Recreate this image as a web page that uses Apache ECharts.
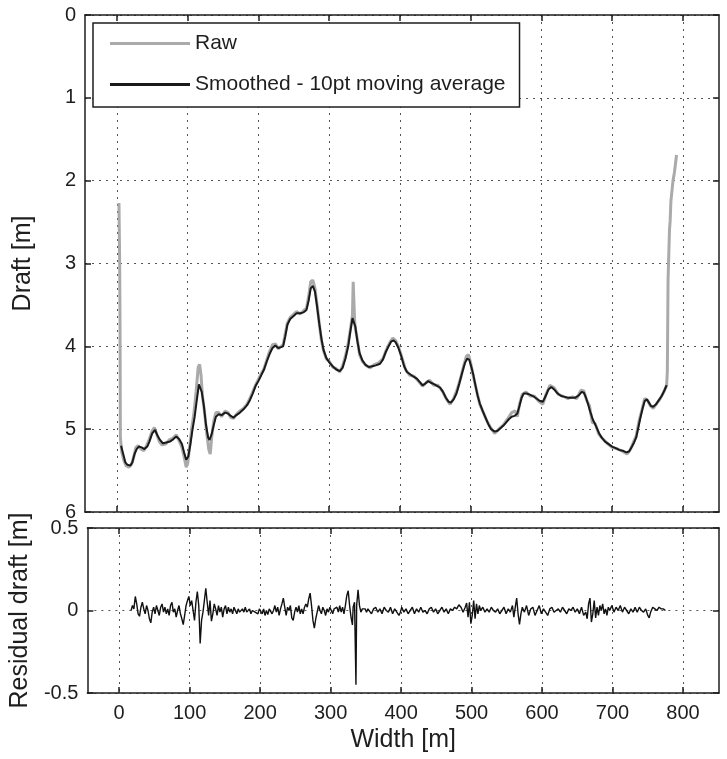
<!DOCTYPE html>
<html>
<head>
<meta charset="utf-8">
<script src="https://cdn.jsdelivr.net/npm/echarts@6/dist/echarts.min.js"></script>
<style>
html, body { margin: 0; padding: 0; background: #fff; }
#chart { width: 727px; height: 759px; }
</style>
</head>
<body>
<div id="chart"></div>
<script>
// tick values
var xTicks = [0, 100, 200, 300, 400, 500, 600, 700, 800];
var seriesNames = ['Raw', 'Smoothed - 10pt moving average'];

// raw draft [width m, draft m]
var rawDraft = [
  [3,2.27],[4,3.0],[4.5,3.75],[5,5.1],[7,5.28],[10,5.38],[13,5.44],[17,5.46],[21,5.42],[24,5.33],
  [27,5.22],[30,5.2],[34,5.24],[38,5.26],[42,5.2],[46,5.12],[50,5.02],[53,4.98],[56,5.05],[60,5.15],
  [64,5.19],[69,5.18],[74,5.13],[79,5.11],[84,5.07],[88,5.14],[92,5.22],[95,5.33],[98,5.46],[100,5.42],
  [103,5.2],[106,4.98],[109,4.8],[112,4.55],[115,4.25],[117,4.22],[119,4.35],[121,4.6],[124,4.8],[127,5.05],
  [130,5.25],[132,5.3],[134,5.1],[137,4.9],[140,4.8],[144,4.8],[148,4.85],[153,4.78],[157,4.8],[161,4.86],
  [165,4.87],[169,4.82],[174,4.78],[179,4.75],[184,4.7],[188,4.63],[192,4.55],[196,4.47],[200,4.4],[204,4.33],
  [208,4.27],[212,4.16],[216,4.06],[220,3.98],[224,3.97],[228,4.03],[232,4.0],[235,3.98],[238,3.85],[241,3.72],
  [245,3.65],[249,3.62],[254,3.58],[259,3.61],[264,3.57],[268,3.54],[271,3.4],[274,3.22],[277,3.2],[280,3.3],
  [283,3.5],[286,3.72],[289,3.92],[292,4.05],[296,4.15],[300,4.18],[305,4.25],[310,4.27],[315,4.31],[319,4.24],
  [323,4.12],[327,3.96],[330,3.8],[333,3.62],[334,3.22],[335,3.22],[336,3.68],[337,3.78],[340,3.92],[343,4.1],
  [347,4.18],[352,4.23],[358,4.26],[364,4.22],[370,4.2],[376,4.15],[381,4.04],[386,3.95],[390,3.9],[394,3.93],
  [398,4.0],[403,4.14],[408,4.28],[414,4.35],[420,4.36],[426,4.42],[432,4.48],[437,4.44],[442,4.41],[448,4.47],
  [454,4.47],[460,4.54],[466,4.64],[471,4.7],[476,4.63],[481,4.52],[486,4.38],[490,4.24],[494,4.12],[497,4.1],
  [500,4.2],[504,4.37],[508,4.52],[513,4.7],[518,4.8],[523,4.9],[528,4.98],[534,5.05],[540,5.0],[546,4.95],
  [552,4.88],[558,4.8],[563,4.78],[566,4.85],[569,4.7],[573,4.58],[578,4.55],[584,4.6],[590,4.6],[596,4.66],
  [602,4.7],[607,4.57],[612,4.47],[618,4.5],[624,4.58],[630,4.6],[637,4.63],[644,4.61],[650,4.63],[656,4.53],
  [660,4.54],[664,4.65],[668,4.72],[672,4.92],[676,4.93],[681,5.06],[686,5.11],[693,5.17],[700,5.22],[708,5.24],
  [715,5.27],[721,5.3],[726,5.24],[730,5.16],[734,5.08],[738,4.9],[742,4.77],[746,4.63],[750,4.65],[754,4.72],
  [758,4.75],[763,4.69],[768,4.63],[773,4.55],[777,4.47],[778,4.3],[779,3.2],[781,2.6],[782,2.48],[783,2.25],
  [786,2.0],[788,1.9],[791,1.69]
];

// 10pt moving average
var smoothDraft = [
  [6,5.2],[9,5.3],[12,5.4],[15,5.43],[19,5.44],[22,5.4],[25,5.3],[28,5.24],[31,5.21],[35,5.22],
  [39,5.24],[43,5.21],[46,5.15],[50,5.05],[54,5.01],[57,5.07],[61,5.13],[65,5.17],[70,5.16],[75,5.15],
  [80,5.12],[84,5.09],[88,5.12],[92,5.18],[95,5.28],[98,5.37],[101,5.33],[104,5.18],[107,5.0],[110,4.85],
  [113,4.65],[116,4.46],[118,4.45],[120,4.55],[123,4.72],[126,4.95],[129,5.1],[131,5.13],[134,5.06],[137,4.95],
  [140,4.85],[144,4.82],[148,4.83],[153,4.8],[157,4.81],[161,4.84],[165,4.86],[169,4.83],[174,4.8],[179,4.76],
  [184,4.71],[188,4.65],[192,4.57],[196,4.48],[200,4.42],[204,4.35],[208,4.28],[212,4.18],[216,4.09],[220,4.02],
  [224,3.99],[228,4.02],[232,4.01],[235,4.0],[238,3.88],[241,3.74],[245,3.67],[249,3.64],[254,3.6],[259,3.6],
  [264,3.59],[268,3.56],[271,3.45],[274,3.3],[277,3.27],[280,3.34],[283,3.52],[286,3.72],[289,3.9],[292,4.04],
  [296,4.14],[300,4.19],[305,4.24],[310,4.28],[315,4.3],[319,4.26],[323,4.15],[327,4.0],[330,3.82],[333,3.66],
  [335,3.65],[337,3.76],[340,3.94],[343,4.08],[347,4.17],[351,4.22],[356,4.25],[361,4.24],[366,4.23],[372,4.21],
  [376,4.16],[380,4.07],[384,4.0],[388,3.94],[391,3.93],[394,3.95],[398,4.02],[402,4.12],[406,4.24],[410,4.31],
  [415,4.34],[420,4.37],[424,4.39],[428,4.43],[432,4.47],[436,4.45],[440,4.42],[444,4.44],[449,4.46],[453,4.48],
  [457,4.5],[461,4.55],[465,4.62],[469,4.67],[472,4.68],[476,4.64],[480,4.57],[484,4.45],[488,4.32],[492,4.2],
  [495,4.15],[498,4.16],[501,4.25],[504,4.35],[507,4.48],[510,4.6],[513,4.69],[517,4.78],[521,4.86],[525,4.94],
  [529,5.0],[534,5.03],[538,5.02],[542,4.99],[546,4.96],[550,4.92],[554,4.88],[558,4.85],[562,4.84],[566,4.81],
  [569,4.72],[572,4.62],[575,4.57],[579,4.57],[583,4.58],[588,4.6],[593,4.63],[598,4.66],[602,4.67],[606,4.6],
  [610,4.52],[614,4.49],[618,4.52],[623,4.57],[628,4.6],[633,4.61],[638,4.62],[643,4.62],[648,4.62],[653,4.59],
  [657,4.55],[660,4.56],[663,4.62],[666,4.7],[669,4.79],[673,4.89],[677,4.96],[681,5.04],[685,5.1],[690,5.15],
  [695,5.18],[700,5.21],[705,5.23],[710,5.25],[715,5.26],[720,5.28],[724,5.27],[728,5.21],[731,5.16],[734,5.1],
  [737,4.98],[740,4.86],[743,4.75],[746,4.66],[749,4.64],[752,4.68],[755,4.72],[758,4.73],[762,4.7],[766,4.65],
  [770,4.6],[774,4.53],[777,4.47]
];

// residual = raw - smoothed
var residual = [
  [17,0.0],[19,0.03],[21,0.01],[23,0.085],[25,0.04],[27,-0.02],[29,-0.035],[31,0.02],[33,0.05],[35,0.01],
  [37,-0.02],[39,0.03],[41,0.0],[43,-0.05],[45,-0.075],[47,-0.01],[49,0.02],[51,-0.02],[53,0.03],[55,0.0],
  [57,-0.03],[59,0.02],[61,0.04],[63,-0.01],[65,0.02],[67,-0.02],[69,0.01],[71,-0.03],[73,0.03],[75,0.05],
  [77,-0.01],[79,0.01],[81,-0.04],[83,0.0],[85,0.03],[87,-0.02],[89,-0.05],[91,-0.085],[93,-0.03],[95,0.03],
  [97,0.06],[99,0.085],[101,0.03],[103,0.06],[105,0.0],[107,-0.06],[109,0.05],[111,0.115],[113,0.03],[114,-0.08],
  [115,-0.2],[117,-0.06],[119,-0.01],[121,0.06],[123,0.135],[125,0.05],[127,-0.03],[129,0.06],[131,-0.065],[133,-0.02],
  [135,0.04],[137,0.01],[139,-0.03],[141,0.03],[143,-0.01],[145,0.02],[147,-0.04],[149,0.01],[151,0.03],[153,-0.02],
  [155,0.02],[157,-0.01],[159,0.01],[161,-0.02],[163,0.02],[165,0.0],[167,-0.02],[169,0.01],[171,-0.01],[173,0.0],
  [175,0.01],[177,-0.01],[179,0.02],[181,-0.01],[183,0.0],[185,0.01],[187,-0.02],[189,0.0],[191,0.01],[193,-0.01],
  [195,0.0],[197,-0.02],[199,0.01],[201,0.0],[203,-0.02],[205,0.01],[207,-0.03],[209,0.0],[211,-0.025],[213,0.01],
  [215,0.02],[217,-0.02],[219,0.0],[221,0.03],[223,-0.01],[225,0.02],[227,-0.03],[229,0.01],[231,0.04],[233,0.075],
  [235,0.02],[237,-0.03],[239,0.02],[241,0.0],[243,0.03],[245,-0.045],[247,-0.06],[249,-0.01],[251,0.02],[253,-0.01],
  [255,0.03],[257,-0.02],[259,0.01],[261,-0.02],[263,0.02],[265,0.04],[267,0.02],[269,0.07],[271,0.105],[273,0.03],
  [275,-0.06],[277,-0.107],[279,-0.05],[281,-0.01],[283,0.03],[285,0.0],[287,-0.02],[289,0.02],[291,0.0],[293,-0.03],
  [295,0.01],[297,-0.01],[299,0.02],[301,0.0],[303,-0.02],[305,0.01],[307,0.0],[309,0.02],[311,-0.01],[313,0.03],
  [315,-0.01],[317,0.02],[319,-0.02],[321,0.03],[323,0.09],[325,0.12],[327,0.03],[329,-0.04],[331,-0.087],[332,0.02],
  [334,0.05],[336,-0.45],[337,0.03],[339,0.125],[341,0.03],[343,-0.01],[345,0.01],[347,0.0],[349,0.01],[351,-0.01],
  [353,0.01],[355,0.0],[358,-0.02],[361,0.01],[364,0.02],[367,-0.01],[370,0.01],[373,-0.02],[376,0.02],[379,0.0],
  [382,-0.01],[385,0.02],[388,-0.02],[391,0.01],[394,-0.01],[397,-0.03],[399,-0.01],[401,0.02],[404,-0.01],[407,0.01],
  [410,-0.02],[413,0.0],[416,0.02],[419,-0.02],[422,0.01],[425,-0.01],[428,0.02],[431,-0.01],[434,0.0],[437,-0.02],
  [440,0.01],[443,0.02],[446,-0.01],[449,0.01],[452,-0.02],[455,0.0],[458,0.02],[461,-0.01],[464,0.01],[467,-0.02],
  [470,0.01],[473,0.0],[476,0.02],[479,0.01],[482,0.035],[485,0.02],[488,-0.01],[491,0.02],[493,0.045],[495,-0.04],
  [497,0.05],[499,-0.08],[501,-0.03],[503,0.06],[505,-0.05],[507,0.04],[509,-0.02],[511,0.03],[513,0.0],[516,0.02],
  [519,-0.01],[522,0.01],[525,-0.01],[528,0.02],[531,0.0],[534,-0.01],[537,0.01],[540,-0.02],[543,0.0],[546,0.02],
  [549,-0.02],[552,0.01],[555,-0.01],[558,0.03],[560,-0.04],[562,0.02],[564,0.075],[566,-0.02],[568,-0.085],[570,-0.02],
  [572,0.02],[575,-0.01],[578,0.03],[581,-0.03],[584,0.01],[587,0.02],[590,-0.03],[593,0.0],[596,0.03],[599,-0.02],
  [602,0.01],[605,-0.01],[608,-0.03],[611,0.01],[614,0.02],[617,-0.01],[620,0.0],[623,0.01],[626,-0.01],[629,0.02],
  [632,0.0],[635,-0.02],[638,0.01],[641,0.0],[644,0.02],[647,-0.01],[650,0.01],[653,-0.02],[656,0.02],[659,-0.03],
  [662,-0.01],[664,-0.05],[666,0.04],[668,0.075],[670,-0.07],[672,-0.02],[674,0.06],[676,-0.045],[678,0.02],[680,-0.03],
  [682,0.03],[684,0.0],[686,0.04],[688,-0.02],[690,0.01],[692,-0.03],[694,0.02],[696,0.0],[699,0.03],[702,-0.01],
  [705,0.02],[708,0.0],[711,0.03],[714,-0.01],[717,0.02],[720,0.0],[723,-0.02],[726,0.01],[729,-0.01],[732,0.02],
  [735,-0.01],[738,0.02],[741,0.0],[744,-0.01],[747,0.01],[750,-0.03],[752,-0.045],[754,-0.01],[757,0.02],[760,0.01],
  [763,0.0],[766,0.02],[769,0.01],[772,0.01],[775,0.0]
];

var FONT = "'Liberation Sans', Arial, sans-serif";
var INK = '#1e1e1e';
var gridDots = { color: '#555', width: 1, type: [2, 5] };

function xAxisFor(grid, pos, withLabels) {
  return {
    type: 'value', gridIndex: grid, position: pos, min: -45, max: 851,
    axisLine: { show: true, onZero: false, lineStyle: { color: INK, width: 1.5 } },
    axisTick: { show: true, inside: true, length: 6, customValues: xTicks, lineStyle: { color: INK, width: 1.5 } },
    axisLabel: { show: withLabels, customValues: xTicks, color: INK, fontFamily: FONT, fontSize: 20, margin: 10 },
    splitLine: { show: pos === 'bottom', lineStyle: gridDots }
  };
}

function yAxisFor(grid, pos, min, max, step, inverse, withLabels) {
  return {
    type: 'value', gridIndex: grid, position: pos, min: min, max: max, interval: step, inverse: inverse,
    axisLine: { show: true, onZero: false, lineStyle: { color: INK, width: 1.5 } },
    axisTick: { show: true, inside: true, length: 6, lineStyle: { color: INK, width: 1.5 } },
    axisLabel: { show: withLabels, color: INK, fontFamily: FONT, fontSize: 20, margin: 9 },
    splitLine: { show: pos === 'left', lineStyle: gridDots }
  };
}

var chart = echarts.init(document.getElementById('chart'), null, { renderer: 'canvas' });

var xs = [xAxisFor(0, 'bottom', false), xAxisFor(0, 'top', false), xAxisFor(1, 'bottom', true), xAxisFor(1, 'top', false)];
xs[2].name = 'Width [m]';
xs[2].nameLocation = 'middle';
xs[2].nameGap = 35;
xs[2].nameTextStyle = { color: INK, fontFamily: FONT, fontSize: 25 };

var ys = [
  yAxisFor(0, 'left', 0, 6, 1, true, true),
  yAxisFor(0, 'right', 0, 6, 1, true, false),
  yAxisFor(1, 'left', -0.5, 0.5, 0.5, false, true),
  yAxisFor(1, 'right', -0.5, 0.5, 0.5, false, false)
];
ys[0].name = 'Draft [m]';
ys[2].name = 'Residual draft [m]';
[0, 2].forEach(function (i) {
  ys[i].nameLocation = 'middle';
  ys[i].nameGap = 49;
  ys[i].nameTextStyle = { color: INK, fontFamily: FONT, fontSize: 25 };
});

chart.setOption({
  animation: false,
  backgroundColor: '#fff',
  grid: [
    { left: 85, top: 15, width: 634, height: 497 },
    { left: 85, top: 528, width: 634, height: 165 }
  ],
  legend: {
    data: [
      { name: seriesNames[0], icon: 'rect', itemStyle: { color: '#aaaaaa' } },
      { name: seriesNames[1], icon: 'rect', itemStyle: { color: '#1a1a1a' } }
    ],
    orient: 'vertical',
    left: 93, top: 23,
    itemWidth: 80, itemHeight: 3, itemGap: 20,
    padding: [10, 14, 12, 17],
    backgroundColor: '#fff',
    borderColor: INK, borderWidth: 1.5, borderRadius: 0,
    selectedMode: false,
    textStyle: { color: INK, fontFamily: FONT, fontSize: 21 }
  },
  xAxis: xs,
  yAxis: ys,
  series: [
    {
      name: seriesNames[0], type: 'line', xAxisIndex: 0, yAxisIndex: 0,
      data: rawDraft, symbol: 'none', showSymbol: false,
      lineStyle: { color: '#aaaaaa', width: 3 }, itemStyle: { color: '#aaaaaa' }
    },
    {
      name: seriesNames[1], type: 'line', xAxisIndex: 0, yAxisIndex: 0,
      data: smoothDraft, symbol: 'none', showSymbol: false,
      lineStyle: { color: '#1a1a1a', width: 2 }, itemStyle: { color: '#1a1a1a' }
    },
    {
      name: 'Residual', type: 'line', xAxisIndex: 2, yAxisIndex: 2,
      data: residual, symbol: 'none', showSymbol: false,
      lineStyle: { color: '#111', width: 1.4 }, itemStyle: { color: '#111' }
    }
  ]
});
</script>
</body>
</html>
